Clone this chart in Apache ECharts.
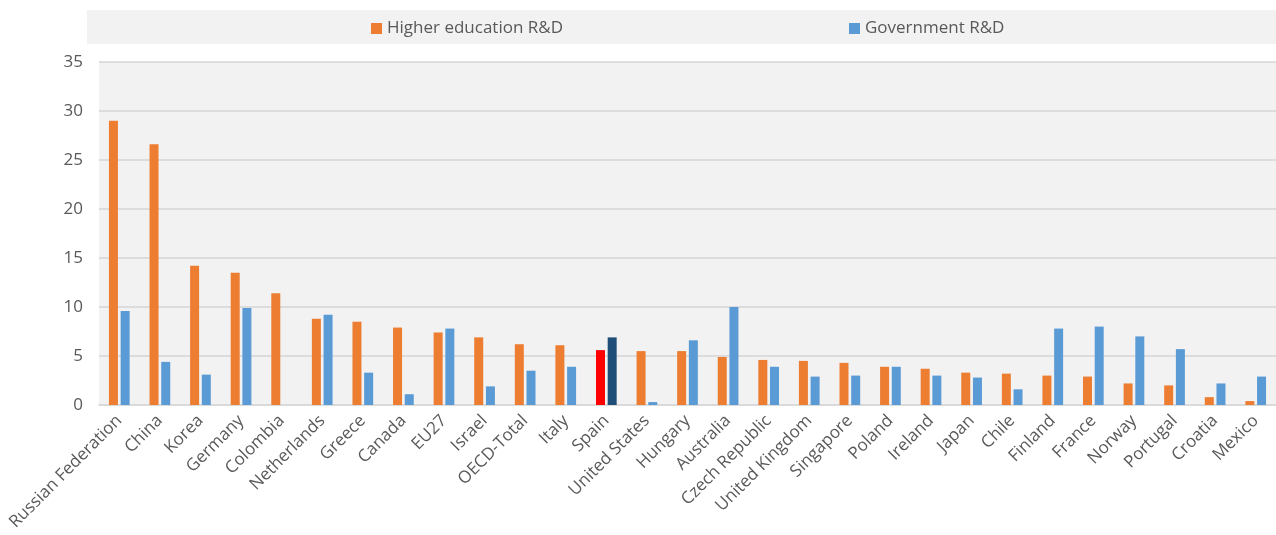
<!DOCTYPE html>
<html>
<head>
<meta charset="utf-8">
<script src="https://cdn.jsdelivr.net/npm/echarts@6/dist/echarts.min.js"></script>
<style>
  html, body { margin: 0; padding: 0; background: #ffffff; }
  #chart { width: 1276px; height: 535px; }
</style>
</head>
<body>
<div id="chart"></div>
<script>
// Share of R&D performed by higher education and government sectors
const countries = [
  'Russian Federation', 'China', 'Korea', 'Germany', 'Colombia', 'Netherlands',
  'Greece', 'Canada', 'EU27', 'Israel', 'OECD-Total', 'Italy', 'Spain',
  'United States', 'Hungary', 'Australia', 'Czech Republic', 'United Kingdom',
  'Singapore', 'Poland', 'Ireland', 'Japan', 'Chile', 'Finland', 'France',
  'Norway', 'Portugal', 'Croatia', 'Mexico'
];
const higherEducation = [
  29.0, 26.6, 14.2, 13.5, 11.4, 8.8, 8.5, 7.9, 7.4, 6.9, 6.2, 6.1, 5.6,
  5.5, 5.5, 4.9, 4.6, 4.5, 4.3, 3.9, 3.7, 3.3, 3.2, 3.0, 2.9, 2.2, 2.0, 0.8, 0.4
];
const government = [
  9.6, 4.4, 3.1, 9.9, null, 9.2, 3.3, 1.1, 7.8, 1.9, 3.5, 3.9, 6.9,
  0.3, 6.6, 10.0, 3.9, 2.9, 3.0, 3.9, 3.0, 2.8, 1.6, 7.8, 8.0, 7.0, 5.7, 2.2, 2.9
];
const yTicks = { min: 0, max: 35, interval: 5 };
const highlight = 'Spain';

const ORANGE = '#ED7D31';
const BLUE = '#5B9BD5';
const TEXT = '#595959';
const FONT = '"Open Sans", "Noto Sans", sans-serif';

const heData = higherEducation.map((v, i) => countries[i] === highlight
  ? { value: v, itemStyle: { color: '#FF0000' } } : v);
const govData = government.map((v, i) => countries[i] === highlight
  ? { value: v, itemStyle: { color: '#1F4E79' } } : v);

const chart = echarts.init(document.getElementById('chart'), null, { renderer: 'canvas' });
chart.setOption({
  animation: false,
  backgroundColor: '#ffffff',
  textStyle: { fontFamily: FONT },
  graphic: [{
    type: 'rect', z: -10,
    shape: { x: 87, y: 10, width: 1189, height: 34 },
    style: { fill: '#f2f2f2' }
  }],
  legend: [{
    data: ['Higher education R&D'],
    left: 366, top: 15,
    itemWidth: 11, itemHeight: 11,
    icon: 'rect',
    textStyle: { color: TEXT, fontSize: 17, fontFamily: FONT }
  }, {
    data: ['Government R&D'],
    left: 844, top: 15,
    itemWidth: 11, itemHeight: 11,
    icon: 'rect',
    textStyle: { color: TEXT, fontSize: 17, fontFamily: FONT }
  }],
  grid: {
    left: 99, right: 0, top: 62, bottom: 130,
    show: true, backgroundColor: '#f2f2f2', borderWidth: 0
  },
  xAxis: {
    type: 'category',
    data: countries,
    axisLine: { show: true, lineStyle: { color: '#d9d9d9', width: 1.5 } },
    axisTick: { show: false },
    axisLabel: {
      interval: 0, rotate: 45, margin: 13,
      color: TEXT, fontSize: 17, fontFamily: FONT
    }
  },
  yAxis: {
    type: 'value',
    min: yTicks.min, max: yTicks.max, interval: yTicks.interval,
    axisLine: { show: false },
    axisTick: { show: false },
    axisLabel: { color: TEXT, fontSize: 17, fontFamily: FONT, margin: 16 },
    splitLine: { lineStyle: { color: '#d4d4d4', width: 1.5 } }
  },
  series: [{
    name: 'Higher education R&D',
    type: 'bar',
    data: heData,
    barWidth: 9,
    barGap: '30%',
    itemStyle: { color: ORANGE }
  }, {
    name: 'Government R&D',
    type: 'bar',
    data: govData,
    barWidth: 9,
    itemStyle: { color: BLUE }
  }]
});
</script>
</body>
</html>
